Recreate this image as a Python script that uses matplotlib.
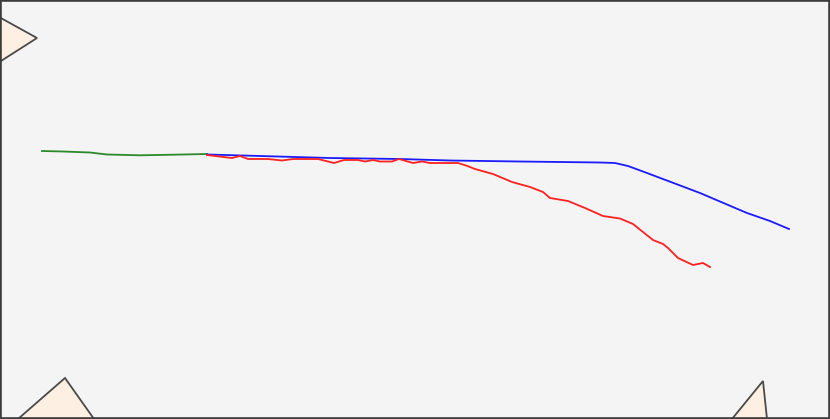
import matplotlib
matplotlib.use("Agg")
import matplotlib.pyplot as plt

# Series (x: step, y: level, y axis grows downward)
green_x = [42, 63, 90, 107, 140, 173, 207]
green_y = [151, 151.5, 152.5, 154.5, 155.3, 154.7, 154]

blue_x = [207, 260, 330, 400, 450, 520, 600, 615, 628, 647, 700, 747, 770, 789]
blue_y = [154.5, 156, 158, 159, 160.5, 161.5, 162.5, 163, 166, 173, 193, 213, 221, 229]

red_x = [207, 215, 232, 240, 248, 268, 282, 293, 318, 334, 344, 358, 365, 373,
         380, 392, 399, 413, 422, 430, 458, 466, 475, 493, 512, 530, 543, 550,
         568, 585, 603, 620, 633, 653, 663, 668, 678, 693, 703, 710]
red_y = [155, 156, 158, 156, 159, 159, 160.5, 159, 159, 163, 160, 160, 161.5, 160,
         161.5, 161.5, 159, 163, 161.5, 163, 163, 165.5, 169, 174, 182, 187, 192, 198,
         201, 208, 216, 218.5, 224, 240, 244, 248, 258, 265, 263, 267]

# decorative corner triangles
tri_tl_x = [-10, 37, -10]
tri_tl_y = [12, 38, 68]
tri_bl_x = [18, 65, 94]
tri_bl_y = [419, 378, 419]
tri_br_x = [732, 763, 767]
tri_br_y = [419, 381, 419]

fig = plt.figure(figsize=(8.3, 4.19), dpi=100)
ax = fig.add_axes([0, 0, 1, 1])
ax.set_facecolor("#f4f4f4")

for tx, ty in [(tri_tl_x, tri_tl_y), (tri_bl_x, tri_bl_y), (tri_br_x, tri_br_y)]:
    ax.fill(tx, ty, facecolor="#fdf0e2", edgecolor="#4a4a4a", linewidth=1.3)

ax.plot(green_x, green_y, color="#2a8a2a", linewidth=1.3)
ax.plot(blue_x, blue_y, color="#1a1aff", linewidth=1.3)
ax.plot(red_x, red_y, color="#ff2020", linewidth=1.3)

ax.set_xlim(0, 830)
ax.set_ylim(419, 0)
ax.set_xticks([])
ax.set_yticks([])
for sp in ax.spines.values():
    sp.set_color("#3c3c3c")
    sp.set_linewidth(2.6)

fig.savefig("out.png", dpi=100)
